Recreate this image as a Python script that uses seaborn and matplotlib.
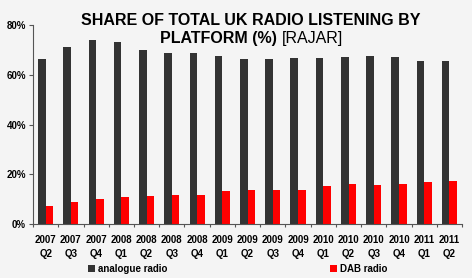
import matplotlib
matplotlib.use("Agg")
import matplotlib.pyplot as plt
import seaborn as sns
import pandas as pd
from matplotlib.ticker import FixedLocator

quarters = ["2007\nQ2", "2007\nQ3", "2007\nQ4", "2008\nQ1", "2008\nQ2", "2008\nQ3",
            "2008\nQ4", "2009\nQ1", "2009\nQ2", "2009\nQ3", "2009\nQ4", "2010\nQ1",
            "2010\nQ2", "2010\nQ3", "2010\nQ4", "2011\nQ1", "2011\nQ2"]
analogue = [66.2, 71.0, 74.0, 72.9, 69.7, 68.8, 68.8, 67.6, 66.1, 66.1, 66.5,
            66.8, 67.1, 67.5, 67.1, 65.4, 65.4]
dab = [7.4, 8.9, 10.3, 10.9, 11.3, 11.7, 11.7, 13.2, 13.6, 13.6, 13.9,
       15.3, 16.1, 15.7, 16.1, 17.0, 17.4]
series = ["analogue radio", "DAB radio"]
yticks = [0, 20, 40, 60, 80]

df = pd.DataFrame({
    "quarter": quarters * 2,
    "value": analogue + dab,
    "platform": [series[0]] * len(quarters) + [series[1]] * len(quarters),
})

sns.set_style("white")
plt.rcParams["font.family"] = ["Liberation Sans", "DejaVu Sans"]
plt.rcParams["text.color"] = "black"
plt.rcParams["xtick.color"] = "black"
plt.rcParams["ytick.color"] = "black"

bg = "#f4f4f4"
fig = plt.figure(figsize=(4.72, 2.78), dpi=100, facecolor=bg)
ax = fig.add_axes([0.070, 0.193, 0.909, 0.718])
ax.set_facecolor(bg)

sns.barplot(data=df, x="quarter", y="value", hue="platform", hue_order=series,
            palette=["#333333", "#ff0000"], width=0.6, gap=0, saturation=1,
            edgecolor="none", linewidth=0, ax=ax, legend=True)

ax.set_ylim(0, 80)
ax.set_xlim(-0.5, len(quarters) - 0.5)
ax.set_yticks(yticks)
ax.set_yticklabels([f"{v}%" for v in yticks], fontsize=7, fontweight="bold")
ax.tick_params(axis="y", length=3, width=0.8, color="#555555", pad=2, direction="out", left=True)
ax.tick_params(axis="x", which="major", length=0, pad=7.5, labelsize=7)
for lbl in ax.get_xticklabels():
    lbl.set_fontweight("bold")
    lbl.set_linespacing(1.55)
ax.xaxis.set_minor_locator(FixedLocator([i - 0.5 for i in range(len(quarters) + 1)]))
ax.tick_params(axis="x", which="minor", length=2.5, width=0.8, color="#555555", bottom=True)
ax.set_xlabel("")
ax.set_ylabel("")
for s in ["top", "right"]:
    ax.spines[s].set_visible(False)
for s in ["left", "bottom"]:
    ax.spines[s].set_color("#555555")
    ax.spines[s].set_linewidth(0.8)

leg = ax.legend(loc="center", bbox_to_anchor=(0.477, -0.222), ncol=2, frameon=False,
                fontsize=7, handlelength=0.7, handleheight=0.7, handletextpad=0.3,
                columnspacing=16.7, borderpad=0)
for t in leg.get_texts():
    t.set_fontweight("bold")

fig.text(0.5318, 0.955, "SHARE OF TOTAL UK RADIO LISTENING BY", ha="center", va="top",
         fontsize=11.5, fontweight="bold")
t1 = fig.text(0.338, 0.888, "PLATFORM (%)", ha="left", va="top", fontsize=11.5, fontweight="bold")
fig.canvas.draw()
bb = t1.get_window_extent()
fig.text(bb.x1 / fig.bbox.width + 0.011, 0.888, "[RAJAR]", ha="left", va="top", fontsize=11.5)

fig.savefig("out.png", dpi=100, facecolor=bg)
